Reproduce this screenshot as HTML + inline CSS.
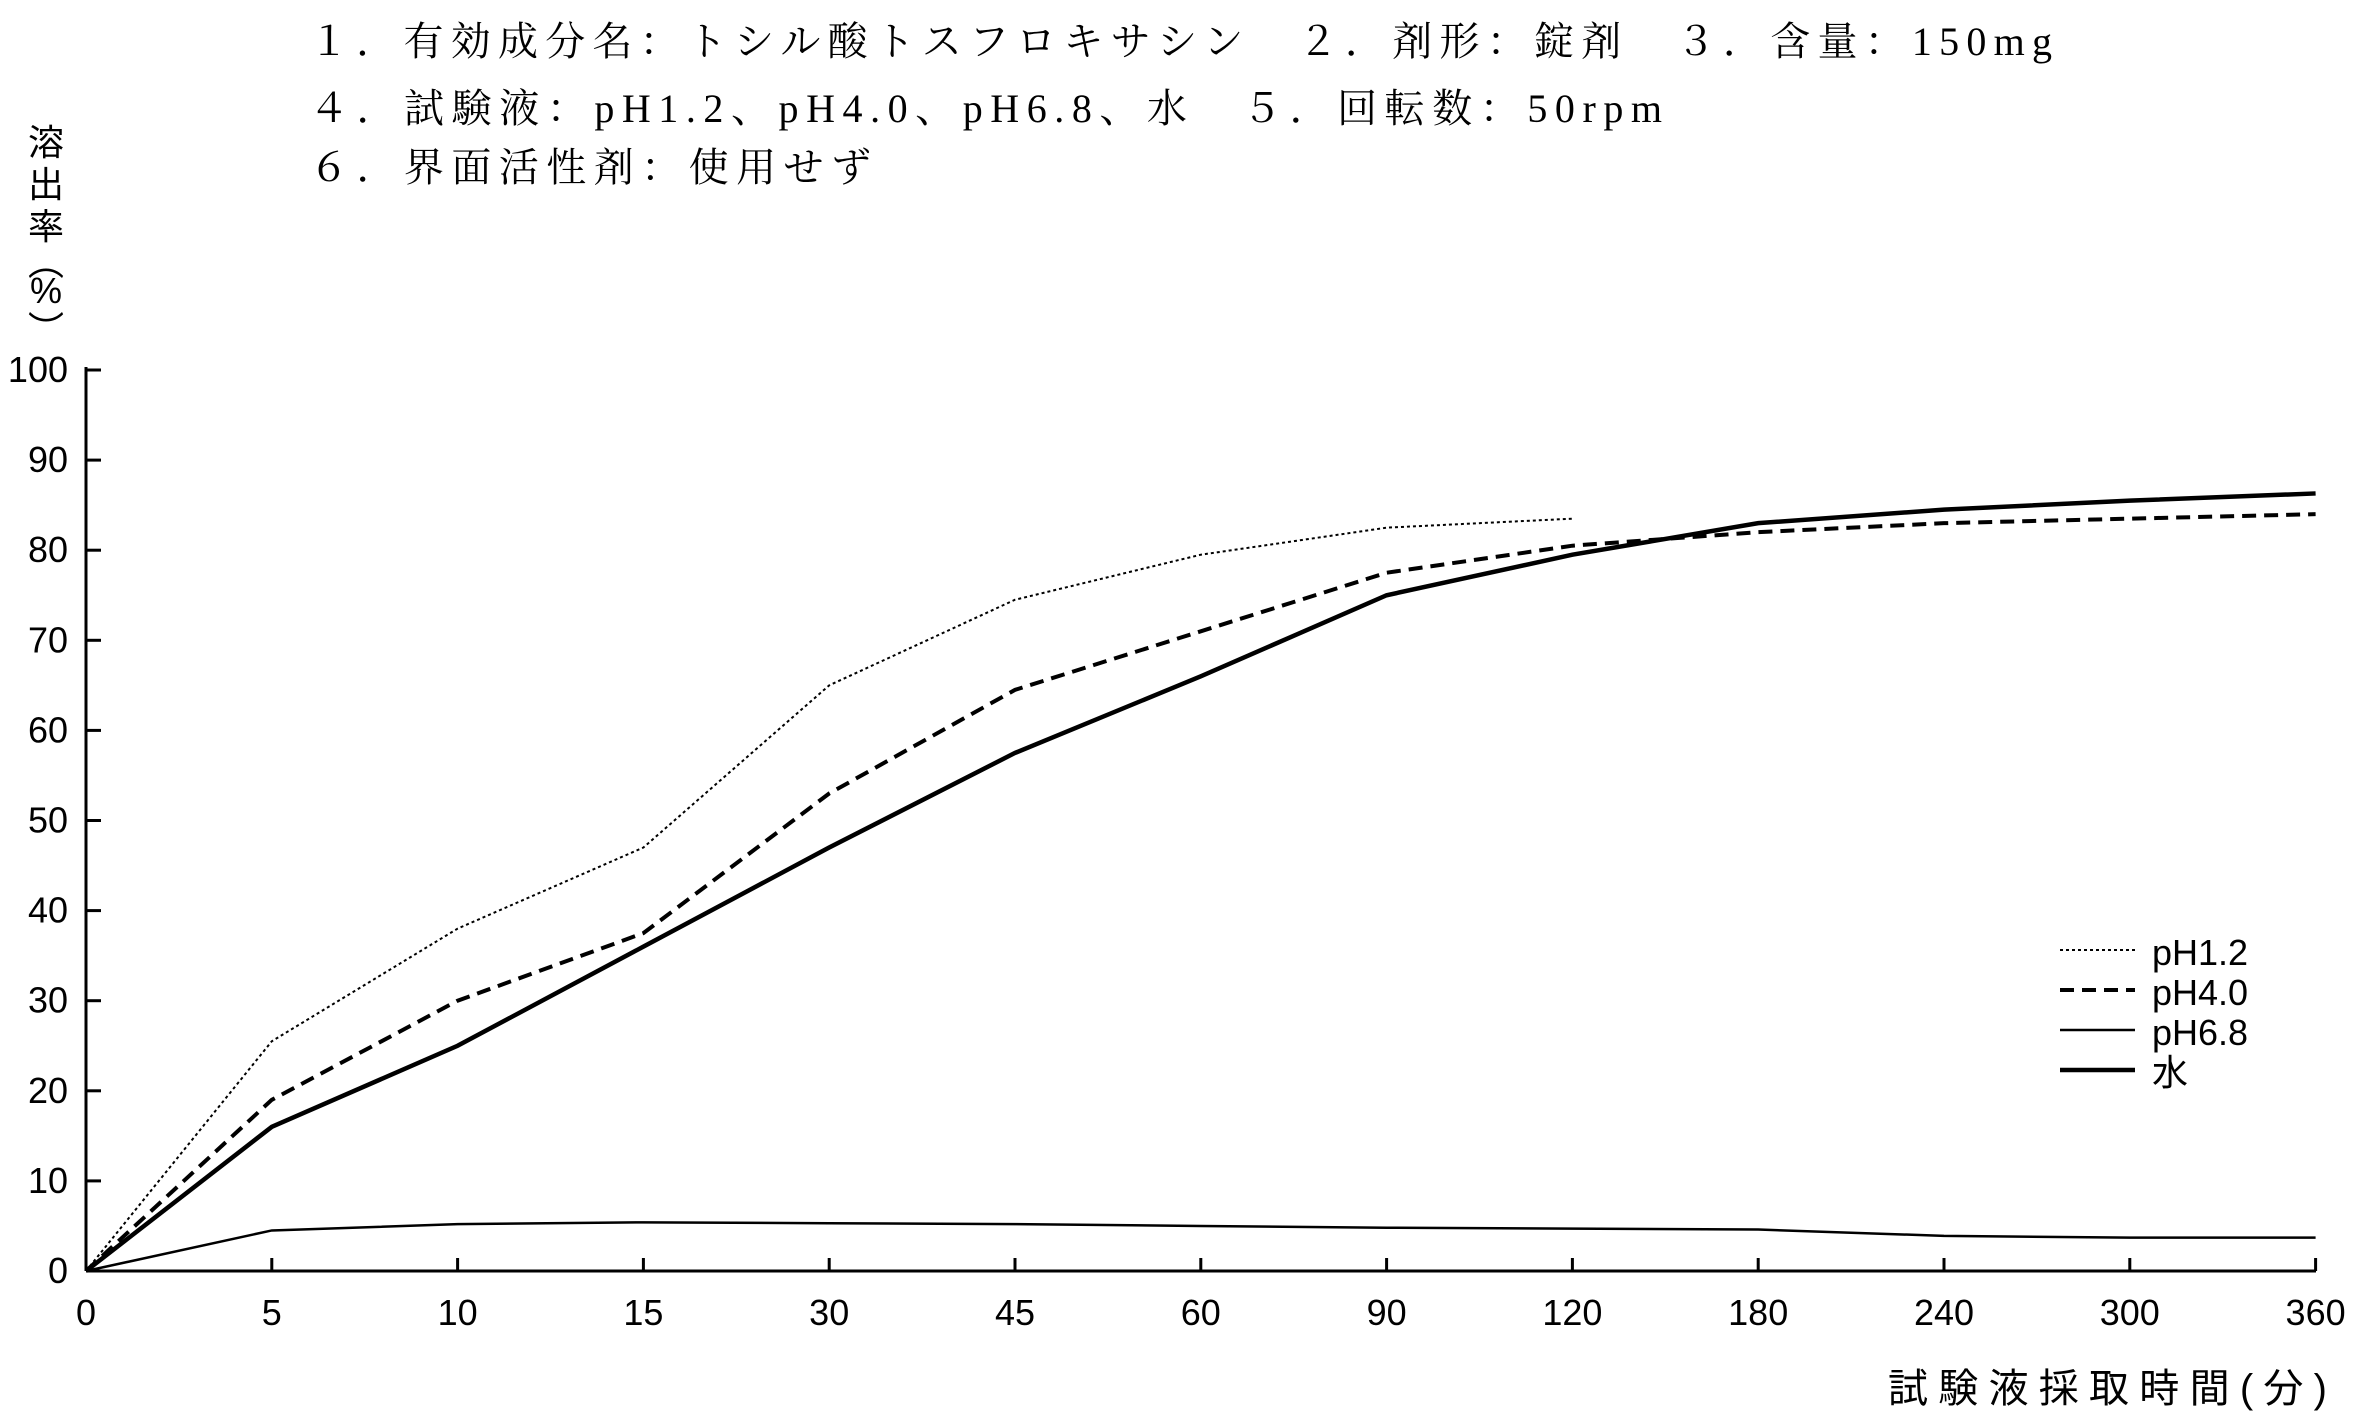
<!DOCTYPE html>
<html><head><meta charset="utf-8"><style>
body{margin:0;background:#fff;}
svg text{font-family:"Liberation Sans","Noto Sans CJK JP",sans-serif;fill:#000;}
.t{font-family:"Liberation Serif","Noto Serif CJK SC","Noto Sans CJK JP",serif;font-size:40px;}
</style></head><body>
<svg width="2362" height="1417" viewBox="0 0 2362 1417" xmlns="http://www.w3.org/2000/svg">
<text class="t" x="309" y="55" textLength="1743" lengthAdjust="spacing">１．有効成分名：トシル酸トスフロキサシン　２．剤形：錠剤　３．含量：150mg</text>
<text class="t" x="309" y="122" textLength="1353" lengthAdjust="spacing">４．試験液：pH1.2、pH4.0、pH6.8、水　５．回転数：50rpm</text>
<text class="t" x="309" y="181" textLength="562" lengthAdjust="spacing">６．界面活性剤：使用せず</text>
<g font-size="36" text-anchor="middle">
<text x="46" y="155">溶</text><text x="46" y="197">出</text><text x="46" y="239">率</text>
<text x="46" y="275" font-family="Noto Sans CJK JP, sans-serif">︵</text>
<text x="46" y="303">%</text>
<text x="46" y="342" font-family="Noto Sans CJK JP, sans-serif">︶</text>
</g>
<g stroke="#000" stroke-width="3" fill="none">
<line x1="86" y1="367" x2="86" y2="1271"/>
<line x1="86" y1="1271" x2="2316" y2="1271"/>
</g>
<g id="yt" font-size="36" text-anchor="end"></g>
<g id="xt" font-size="36" text-anchor="middle"></g>
<g id="series" fill="none" stroke="#000"></g>
<g font-size="36">
<line x1="2060" y1="950" x2="2135" y2="950" stroke="#000" stroke-width="2" stroke-dasharray="3,3"/>
<line x1="2060" y1="990" x2="2135" y2="990" stroke="#000" stroke-width="4" stroke-dasharray="14,8"/>
<line x1="2060" y1="1030" x2="2135" y2="1030" stroke="#000" stroke-width="2.5"/>
<line x1="2060" y1="1070" x2="2135" y2="1070" stroke="#000" stroke-width="4.5"/>
<text x="2152" y="965">pH1.2</text>
<text x="2152" y="1005">pH4.0</text>
<text x="2152" y="1045">pH6.8</text>
<text x="2152" y="1085">水</text>
</g>
<text x="1888" y="1402" font-size="40" textLength="439" lengthAdjust="spacing">試験液採取時間(分)</text>
<script>
var X0=86,DX=185.8,Y0=1271,DY=9.01;
var yt=document.getElementById('yt'),xt=document.getElementById('xt'),s=document.getElementById('series');
var ns='http://www.w3.org/2000/svg';
function el(t,a,p){var e=document.createElementNS(ns,t);for(var k in a)e.setAttribute(k,a[k]);p.appendChild(e);return e;}
for(var i=0;i<=10;i++){var y=Y0-i*10*DY;el('line',{x1:86,y1:y,x2:101,y2:y,stroke:'#000','stroke-width':3},yt);el('text',{x:68,y:y+12},yt).textContent=i*10;}
var lab=[0,5,10,15,30,45,60,90,120,180,240,300,360];
lab.forEach(function(l,i){var x=X0+i*DX;el('line',{x1:x,y1:1271,x2:x,y2:1258,stroke:'#000','stroke-width':3},xt);el('text',{x:x,y:1325},xt).textContent=l;});
function pl(d,w,da){var p=d.map(function(v,i){return (X0+i*DX)+','+(Y0-v*DY)}).join(' ');var a={points:p,'stroke-width':w};if(da)a['stroke-dasharray']=da;el('polyline',a,s);}
pl([0,25.5,38,47,65,74.5,79.5,82.5,83.5],2,'3,3');
pl([0,19,30,37.5,53,64.5,71,77.5,80.5,82,83,83.5,84],4,'14,8');
pl([0,4.5,5.2,5.4,5.3,5.2,5,4.8,4.7,4.6,3.9,3.7,3.7],2.5);
pl([0,16,25,36,47,57.5,66,75,79.5,83,84.5,85.5,86.3],4.5);
</script>
</svg>
</body></html>
